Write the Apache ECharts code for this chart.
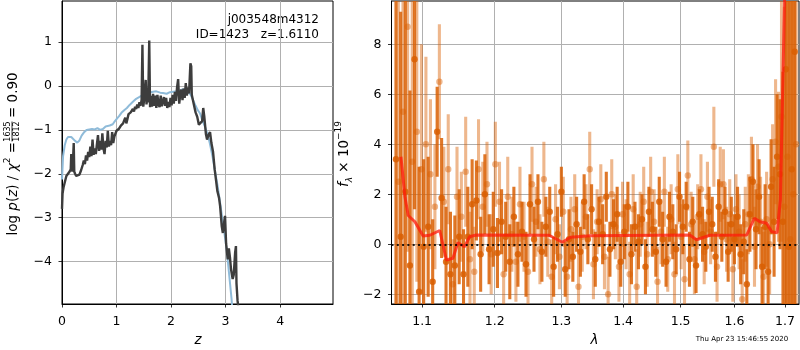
<!DOCTYPE html>
<html>
<head>
<meta charset="utf-8">
<script src="https://cdn.jsdelivr.net/npm/echarts@6/dist/echarts.min.js"></script>
<style>
html, body { margin: 0; padding: 0; background: #fff; }
#main { width: 800px; height: 350px; }
</style>
</head>
<body>
<div id="main"></div>
<script>
// p(z): 灰线 (log p) 和蓝线 (先验)
let zGray = [0,0.01,0.03,0.05,0.08,0.11,0.14,0.16,0.17,0.19,0.205,0.215,0.225,0.24,0.26,0.29,0.32,0.35,0.38,0.40,
  0.42,0.44,0.46,0.48,0.50,0.52,0.54,0.56,0.58,0.60,0.62,0.64,0.66,0.68,0.70,0.72,0.74,0.76,0.78,0.80,
  0.82,0.84,0.86,0.88,0.90,0.92,0.94,0.96,0.98,1.00,1.02,1.04,1.06,1.08,1.10,1.12,1.14,1.16,1.18,1.20,
  1.22,1.24,1.26,1.28,1.30,1.32,1.34,1.36,1.38,1.40,1.42,1.44,1.46,1.475,1.49,1.51,1.535,1.55,1.565,1.58,
  1.60,1.615,1.63,1.65,1.67,1.69,1.71,1.73,1.75,1.77,1.79,1.81,1.83,1.85,1.87,1.89,1.91,1.93,1.95,1.97,
  1.99,2.01,2.03,2.05,2.07,2.09,2.11,2.13,2.15,2.17,2.19,2.21,2.23,2.25,2.27,2.29,2.31,2.33,2.355,2.37,
  2.38,2.42,2.45,2.48,2.51,2.54,2.57,2.59,2.61,2.64,2.66,2.69,2.715,2.74,2.77,2.80,2.82,2.85,2.88,2.90,
  2.93,2.95,2.975,2.99,3.01,3.04,3.06,3.08,3.10,3.13,3.15,3.175,3.19,3.20,3.22,3.24]
let pGray = [-2.80,-2.45,-2.30,-2.20,-2.05,-2.00,-1.95,-1.90,-1.55,-1.95,-1.60,-1.30,-1.95,-2.00,-2.05,-2.07,-2.02,-1.92,-1.80,-1.70,
  -1.78,-1.58,-1.70,-1.50,-1.62,-1.38,-1.60,-1.22,-1.57,-1.42,-1.55,-1.33,-1.12,-1.48,-1.25,-1.45,-1.08,-1.42,-1.55,-1.25,
  -1.40,-1.02,-1.38,-1.25,-1.35,-1.05,-1.30,-1.15,-1.14,-1.02,-1.05,-0.98,-0.95,-0.90,-0.88,-0.85,-0.82,-0.72,-0.85,-0.75,
  -0.64,-0.68,-0.60,-0.62,-0.52,-0.58,-0.47,-0.52,-0.42,-0.50,-0.37,-0.45,-0.32,0.94,-0.47,-0.28,0.14,-0.42,-0.18,-0.37,
  1.04,-0.48,-0.22,-0.47,-0.18,-0.45,-0.22,-0.50,-0.20,-0.42,-0.48,-0.22,-0.46,-0.48,-0.25,-0.45,-0.27,-0.50,-0.36,-0.48,
  -0.27,-0.44,-0.20,-0.40,-0.13,-0.34,-0.03,0.16,-0.40,-0.18,-0.08,-0.32,-0.06,-0.27,0.07,-0.22,-0.03,-0.17,0.52,0.45,
  -0.20,-0.43,-0.60,-0.70,-0.88,-0.86,-0.80,-0.50,-0.70,-1.10,-1.22,-1.10,-1.05,-1.30,-1.50,-1.90,-2.10,-2.40,-2.55,-2.74,
  -3.20,-3.35,-3.10,-2.96,-3.60,-3.95,-3.70,-3.90,-4.18,-4.40,-4.30,-3.80,-3.65,-4.50,-4.90,-5.10]
let zBlue = [0,0.02,0.05,0.08,0.11,0.14,0.17,0.20,0.24,0.28,0.32,0.36,0.40,0.45,0.50,0.55,0.60,0.65,0.70,0.75,
  0.80,0.875,0.93,0.97,1.00,1.05,1.09,1.14,1.19,1.24,1.30,1.36,1.43,1.50,1.55,1.61,1.67,1.73,1.80,1.85,
  1.92,1.98,2.04,2.10,2.16,2.22,2.28,2.31,2.36,2.40,2.45,2.49,2.53,2.58,2.62,2.67,2.71,2.76,2.80,2.85,
  2.89,2.95,3.02,3.08,3.11,3.13]
let pBlue = [-2.13,-1.60,-1.35,-1.22,-1.16,-1.13,-1.16,-1.20,-1.25,-1.29,-1.24,-1.13,-1.06,-1.00,-0.99,-0.98,-0.99,-0.96,-1.00,-0.98,
  -0.92,-0.90,-0.87,-0.80,-0.77,-0.68,-0.61,-0.55,-0.50,-0.43,-0.36,-0.29,-0.24,-0.19,-0.16,-0.145,-0.13,-0.12,-0.15,-0.16,
  -0.175,-0.14,-0.13,-0.12,-0.10,-0.07,-0.07,-0.11,-0.20,-0.31,-0.45,-0.55,-0.62,-0.80,-0.92,-1.10,-1.30,-1.60,-1.90,-2.25,
  -2.58,-3.11,-3.72,-4.48,-4.86,-5.2]

// 光谱: 深色点 (A) 和浅色点 (B), 误差
let lamA = [1.066,1.072,1.078,1.084,1.090,1.096,1.102,1.108,1.114,1.120,
  1.126,1.132,1.138,1.144,1.150,1.156,1.162,1.168,1.174,1.180,
  1.186,1.192,1.198,1.204,1.210,1.216,1.222,1.228,1.234,1.240,
  1.246,1.252,1.258,1.264,1.270,1.276,1.282,1.288,1.294,1.300,
  1.306,1.312,1.318,1.324,1.330,1.336,1.342,1.348,1.354,1.360,
  1.366,1.372,1.378,1.384,1.390,1.396,1.402,1.408,1.414,1.420,
  1.426,1.432,1.438,1.444,1.450,1.456,1.462,1.468,1.474,1.480,
  1.486,1.492,1.498,1.504,1.510,1.516,1.522,1.528,1.534,1.540,
  1.546,1.552,1.558,1.564,1.570,1.576,1.582,1.588,1.594,1.600,
  1.606,1.612,1.618,1.624,1.630,1.636,1.642,1.648,1.654,1.660,
  1.666,1.672,1.678,1.684,1.690,1.696,1.702,1.708,1.714,1.720]
let fA = [3.4,0.3,2.1,-0.85,7.4,-1.9,-0.1,0.7,-1.5,4.5,
  1.85,-0.7,-1.2,-0.85,0.3,-1.2,0.3,1.6,1.75,-0.4,
  2.0,-0.2,0.6,-0.35,0.9,0.3,-0.7,1.1,-0.4,0.5,
  -0.8,1.6,0.2,1.7,-0.3,0.7,1.3,-0.9,0.4,2.1,
  -1.0,0.2,-0.5,0.8,-0.3,1.7,0.2,1.4,-0.6,0.9,
  0.4,1.9,-0.2,0.8,1.2,-0.7,0.5,1.5,-0.4,0.7,
  0.1,1.0,-0.9,1.3,0.6,-0.3,1.7,0.2,-0.7,1.1,
  0.5,-0.2,1.9,0.7,1.5,-0.6,0.9,-0.85,1.2,0.4,
  -0.1,1.3,0.8,-0.5,1.5,0.3,1.3,-0.3,0.8,0.2,
  1.1,-0.4,0.1,-1.6,1.2,2.5,0.6,1.9,-0.9,0.7,
  -1.1,2.3,0.9,3.5,2.8,0.9,7.0,-0.1,3.0,7.7]
let eA = [11,9,8,7,6,5,3.5,2.8,2.5,1.8,
  2.4,2.2,2.5,2.0,1.9,1.8,2.0,1.8,1.6,1.5,
  1.6,1.4,1.5,1.4,1.3,1.4,1.5,1.2,1.3,1.2,
  1.3,1.2,1.3,1.1,1.2,1.2,1.0,1.2,1.1,1.0,
  1.1,1.2,1.0,1.1,1.0,1.1,1.0,1.0,1.1,1.0,
  1.2,1.0,1.1,1.0,1.1,1.0,1.1,1.0,1.2,1.0,
  1.1,1.0,1.1,1.0,1.1,1.0,1.0,1.1,1.0,1.0,
  1.1,1.0,1.0,1.1,1.0,1.1,1.0,1.1,1.0,1.1,
  1.0,1.0,1.1,1.0,1.1,1.0,1.0,1.2,1.1,1.0,
  1.2,1.2,1.3,1.4,1.5,1.5,1.6,1.5,1.6,1.7,
  1.8,1.9,2.2,2.5,3.0,6,10,12,14,14]
let lamB = [1.069,1.075,1.081,1.087,1.093,1.099,1.105,1.111,1.117,1.123,
  1.129,1.135,1.141,1.147,1.153,1.159,1.165,1.171,1.177,1.183,
  1.189,1.195,1.201,1.207,1.213,1.219,1.225,1.231,1.237,1.243,
  1.249,1.255,1.261,1.267,1.273,1.279,1.285,1.291,1.297,1.303,
  1.309,1.315,1.321,1.327,1.333,1.339,1.345,1.351,1.357,1.363,
  1.369,1.375,1.381,1.387,1.393,1.399,1.405,1.411,1.417,1.423,
  1.429,1.435,1.441,1.447,1.453,1.459,1.465,1.471,1.477,1.483,
  1.489,1.495,1.501,1.507,1.513,1.519,1.525,1.531,1.537,1.543,
  1.549,1.555,1.561,1.567,1.573,1.579,1.585,1.591,1.597,1.603,
  1.609,1.615,1.621,1.627,1.633,1.639,1.645,1.651,1.657,1.663,
  1.669,1.675,1.681,1.687,1.693,1.699,1.705,1.711,1.717,1.723]
let fB = [2.5,5.3,8.7,3.3,4.5,3.0,4.0,2.8,1.5,6.5,
  1.7,3.0,-1.6,1.9,1.1,2.9,-0.6,-1.1,3.0,1.5,
  2.4,-0.4,3.2,1.7,-1.2,1.9,0.4,-0.7,1.6,0.3,
  -1.1,2.4,0.9,-0.2,2.6,0.1,-1.3,1.0,-0.5,1.3,
  -1.3,0.6,1.4,-1.7,0.3,1.1,3.0,-0.8,0.9,1.8,
  -0.5,-2.0,2.0,0.7,-0.9,1.2,0.4,-1.2,1.4,-1.7,
  0.8,1.7,-0.4,2.1,0.9,-1.5,0.5,2.1,-0.6,1.0,
  -1.2,2.2,0.3,-1.4,2.75,0.8,-0.6,1.1,2.2,-0.3,
  1.9,0.5,3.9,-0.9,2.4,2.4,0.2,1.2,-1.0,1.4,
  0.5,-2.2,0.8,1.2,2.6,-0.1,2.3,0.9,-1.3,1.0,
  0.0,2.6,4.1,3.1,5.1,1.5,3.5,0.2,2.0,4.0]
let eB = [12,10,9,8,6,5,3.5,3.0,2.5,2.3,
  2.2,2.2,1.8,2.0,1.8,2.2,1.9,1.8,2.0,1.8,
  1.7,1.6,1.7,1.6,1.5,1.6,1.5,1.6,1.5,1.4,
  1.5,1.5,1.4,1.4,1.5,1.4,1.5,1.4,1.3,1.4,
  1.5,1.3,1.4,1.5,1.4,1.3,1.5,1.4,1.3,1.4,
  1.3,1.5,1.4,1.3,1.4,1.3,1.4,1.3,1.4,1.5,
  1.3,1.4,1.3,1.4,1.3,1.4,1.3,1.4,1.3,1.4,
  1.3,1.4,1.3,1.4,1.4,1.3,1.4,1.3,1.4,1.3,
  1.4,1.3,1.6,1.4,1.5,1.4,1.3,1.4,1.3,1.4,
  1.5,1.6,1.5,1.6,1.7,1.6,1.7,1.8,1.8,1.9,
  2.0,2.2,2.5,3.0,5,8,10,12,12,12]
// 模型 (红线)
let lamM = [1.0724,1.0775,1.0818,1.0905,1.1013,1.1102,1.1235,1.1325,1.1414,1.1482,1.1575,1.1644,1.1737,1.281,1.3014,
  1.3145,1.3462,1.5166,1.5289,1.5538,1.6238,1.6387,1.6499,1.6632,1.6732,1.684,1.6908,1.6949,1.7017]
let fM = [3.5,1.9,1.15,0.9,0.33,0.36,0.55,-0.63,-0.56,0.06,-0.1,0.3,0.37,0.36,0.08,
  0.28,0.34,0.37,0.18,0.36,0.37,1.04,0.9,0.84,0.5,0.46,1.8,5.8,12]

// 刻度和范围
let zTicks = [0, 1, 2, 3, 4]
let pTicks = [-4, -3, -2, -1, 0, 1]
let lamTicks = [1.1, 1.2, 1.3, 1.4, 1.5, 1.6, 1.7]
let fTicks = [-2, 0, 2, 4, 6, 8]
let zLim = [0, 4.97], pLim = [-4.97, 1.94]
let lamLim = [1.0603, 1.7289], fLim = [-2.39, 9.73]

const font = 'DejaVu Sans'
const lg = Math.log10
const minus = v => String(v).replace('-', '\u2212')

function axis(grid, lim, ticks, fmt, margin) {
    return {
        type: 'value', gridIndex: grid, min: lim[0], max: lim[1],
        axisLine: { show: true, onZero: false, lineStyle: { color: '#000', width: 1 } },
        axisTick: { show: true, length: 3.5, customValues: ticks, lineStyle: { color: '#000', width: 0.8 } },
        axisLabel: { customValues: ticks, formatter: fmt, color: '#000', fontFamily: font, fontSize: 12.5, margin: margin },
        splitLine: { show: true, lineStyle: { color: '#b0b0b0', width: 1 } }
    }
}

// 误差棒
function errorBars(lam, f, e, opacity) {
    return {
        type: 'custom', xAxisIndex: 1, yAxisIndex: 1, clip: true, silent: true,
        data: lam.map((l, i) => [lg(l), f[i], e[i]]),
        renderItem: function (params, api) {
            let x = api.value(0), y = api.value(1), err = api.value(2)
            let a = api.coord([x, y - err]), b = api.coord([x, y + err]), c = api.coord([x, y])
            return {
                type: 'group', children: [
                    { type: 'line', shape: { x1: a[0], y1: a[1], x2: b[0], y2: b[1] }, style: { stroke: '#d95f02', lineWidth: 3.1, opacity: opacity } },
                    { type: 'circle', shape: { cx: c[0], cy: c[1], r: 3.2 }, style: { fill: '#d95f02', opacity: opacity } }
                ]
            }
        }
    }
}

let rich = {
    n: { fontFamily: font, fontSize: 13.5, lineHeight: 20, color: '#000' },
    i: { fontFamily: font, fontSize: 13.5, fontStyle: 'italic', lineHeight: 20, color: '#000' },
    s: { fontFamily: font, fontSize: 9, verticalAlign: 'top', color: '#000' },
    b: { fontFamily: font, fontSize: 9, fontStyle: 'italic', verticalAlign: 'bottom', color: '#000' }
}
let small = { fontFamily: font, fontSize: 8, fill: '#000', align: 'center', verticalAlign: 'middle' }

let myChart = echarts.init(document.getElementById('main'))
myChart.setOption({
    animation: false,
    grid: [
        { left: 62, top: 1, width: 271, height: 303, show: true, borderColor: '#000', borderWidth: 1 },
        { left: 391.5, top: 1, width: 407.5, height: 303, show: true, borderColor: '#000', borderWidth: 1 }
    ],
    xAxis: [
        axis(0, zLim, zTicks, v => minus(v), 11),
        axis(1, [lg(lamLim[0]), lg(lamLim[1])], lamTicks.map(lg), v => Math.pow(10, v).toFixed(1), 11)
    ],
    yAxis: [
        axis(0, pLim, pTicks, v => minus(v), 10),
        axis(1, fLim, fTicks, v => minus(v), 10)
    ],
    series: [
        { type: 'line', xAxisIndex: 0, yAxisIndex: 0, showSymbol: false, silent: true,
          data: zBlue.map((z, i) => [z, pBlue[i]]), lineStyle: { color: '#8fbbd9', width: 2 } },
        { type: 'line', xAxisIndex: 0, yAxisIndex: 0, showSymbol: false, silent: true,
          data: zGray.map((z, i) => [z, pGray[i]]), lineStyle: { color: '#3d3d3d', width: 2.4 } },
        errorBars(lamB, fB, eB, 0.45),
        errorBars(lamA, fA, eA, 0.85),
        { type: 'line', xAxisIndex: 1, yAxisIndex: 1, showSymbol: false, silent: true, z: 4,
          data: lamM.map((l, i) => [lg(l), fM[i]]), lineStyle: { color: '#ff1a0a', width: 3, opacity: 0.75 },
          markLine: { silent: true, symbol: 'none', label: { show: false },
            lineStyle: { color: '#000', width: 2, type: [2, 3.3], opacity: 0.85 }, data: [{ yAxis: 0 }] } }
    ],
    graphic: [
        { type: 'text', x: 319, y: 20, style: { text: 'j003548m4312', fontFamily: font, fontSize: 12, fill: '#000', align: 'right', verticalAlign: 'middle' } },
        { type: 'text', x: 319, y: 34.5, style: { text: 'ID=1423   z=1.6110', fontFamily: font, fontSize: 12, fill: '#000', align: 'right', verticalAlign: 'middle' } },
        { type: 'group', x: 13, y: 156, rotation: Math.PI / 2, children: [
            { type: 'text', x: 14, y: 0, style: { text: '{n|log }{i|p}{n|(}{i|z}{n|) / }{i|χ}{s|2}{n| =}', rich: rich, align: 'right', verticalAlign: 'middle' } },
            { type: 'text', x: 24.5, y: -5.5, style: Object.assign({ text: '1635' }, small) },
            { type: 'line', shape: { x1: 14.5, y1: -1, x2: 34.5, y2: -1 }, style: { stroke: '#000', lineWidth: 0.8 } },
            { type: 'text', x: 24.5, y: 3.5, style: Object.assign({ text: '1812' }, small) },
            { type: 'text', x: 38, y: 0, style: { text: '{n|= 0.90}', rich: rich, align: 'left', verticalAlign: 'middle' } }
        ] },
        { type: 'group', x: 344, y: 154, rotation: Math.PI / 2, children: [
            { type: 'text', x: 0, y: 0, style: { text: '{i|f}{b|λ}{n| × 10}{s|−19}', rich: rich, align: 'center', verticalAlign: 'middle' } }
        ] },
        { type: 'text', x: 198, y: 340, style: { text: 'z', fontFamily: font, fontSize: 13.5, fontStyle: 'italic', fill: '#000', align: 'center', verticalAlign: 'middle' } },
        { type: 'text', x: 594.5, y: 340.5, style: { text: 'λ', fontFamily: font, fontSize: 13.5, fontStyle: 'italic', fill: '#000', align: 'center', verticalAlign: 'middle' } },
        { type: 'text', x: 742, y: 339.5, style: { text: 'Thu Apr 23 15:46:55 2020', fontFamily: font, fontSize: 7, fill: '#000', align: 'center', verticalAlign: 'middle' } }
    ]
})
</script>
</body>
</html>
